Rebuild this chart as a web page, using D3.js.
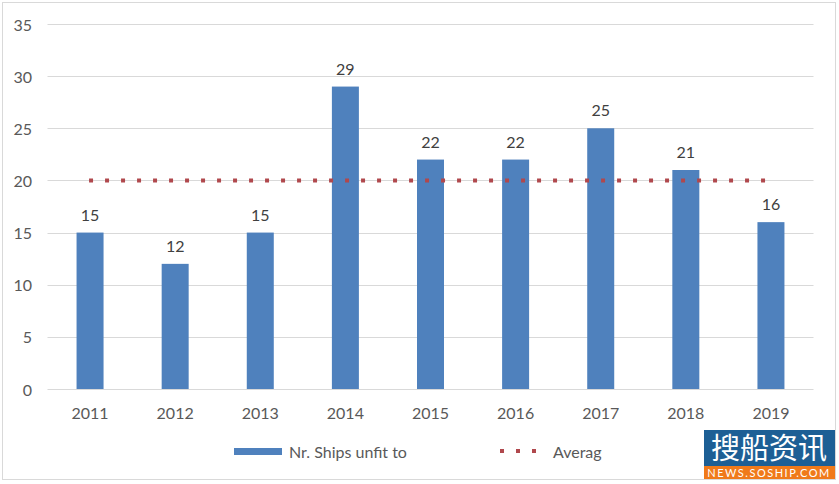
<!DOCTYPE html>
<html><head><meta charset="utf-8">
<script src="https://cdn.jsdelivr.net/npm/d3@7"></script>
<style>body{margin:0;background:#fff;} text{font-family:Lato,"Open Sans",sans-serif;}</style>
</head><body><svg id="c" width="839" height="484"></svg>
<script>
const years = ["2011","2012","2013","2014","2015","2016","2017","2018","2019"];
const ships = [15,12,15,29,22,22,25,21,16];
const average = [20,20,20,20,20,20,20,20,20];
const yTicks = [0,5,10,15,20,25,30,35];
const seriesNames = ["Nr. Ships unfit to","Averag"];

const svg = d3.select("#c");
svg.append("rect").attr("x",2.5).attr("y",2.5).attr("width",833).attr("height",477)
  .attr("fill","#fff").attr("stroke","#d9d9d9");
const x = d3.scaleBand().domain(years).range([47.5,813.5]);
const y = d3.scaleLinear().domain([0,35]).range([389,24]);
const txt="#595959";
const fs="16px";

svg.append("g").selectAll("line").data(yTicks).join("line")
  .attr("x1",47.5).attr("x2",813.5).attr("y1",d=>Math.round(y(d))+0.5).attr("y2",d=>Math.round(y(d))+0.5)
  .attr("stroke","#d9d9d9");
svg.append("g").selectAll("text").data(yTicks).join("text")
  .attr("x",32).attr("y",d=>y(d)+1).attr("dy","0.35em").attr("text-anchor","end")
  .attr("fill",txt).style("font-size",fs).text(d=>d);
const bw=27;
svg.append("g").selectAll("rect").data(ships).join("rect")
  .attr("x",(d,i)=>x(years[i])+x.bandwidth()/2-bw/2).attr("width",bw)
  .attr("y",d=>y(d)).attr("height",d=>y(0)-y(d)).attr("fill","#4f81bd");
svg.append("g").selectAll("text").data(ships).join("text")
  .attr("x",(d,i)=>x(years[i])+x.bandwidth()/2).attr("y",d=>y(d)-12)
  .attr("text-anchor","middle").attr("fill","#404040").style("font-size",fs).text(d=>d);
svg.append("g").selectAll("text").data(years).join("text")
  .attr("x",d=>x(d)+x.bandwidth()/2).attr("y",413).attr("dy","0.35em")
  .attr("text-anchor","middle").attr("fill",txt).style("font-size",fs).text(d=>d);
const line=d3.line().x((d,i)=>x(years[i])+x.bandwidth()/2).y(d=>y(d));
svg.append("path").datum(average).attr("d",line).attr("fill","none")
  .attr("stroke","#b0484d").attr("stroke-width",4).attr("stroke-dasharray","4,12")
  .attr("transform","translate(-1,0)");
const ly=451;
svg.append("rect").attr("x",234).attr("y",ly-3).attr("width",48).attr("height",7).attr("fill","#4f81bd");
svg.append("text").attr("x",289).attr("y",ly+1).attr("dy","0.35em").attr("fill",txt).style("font-size",fs).text(seriesNames[0]);
svg.append("line").attr("x1",500).attr("x2",540).attr("y1",ly).attr("y2",ly)
  .attr("stroke","#b0484d").attr("stroke-width",4).attr("stroke-dasharray","4,12");
svg.append("text").attr("x",553).attr("y",ly+1).attr("dy","0.35em").attr("fill",txt).style("font-size",fs).text(seriesNames[1]);
const wm=svg.append("g");
wm.append("rect").attr("x",704).attr("y",430).attr("width",131).attr("height",36).attr("fill","#1d5f95");
wm.append("rect").attr("x",704).attr("y",466).attr("width",131).attr("height",13).attr("fill","#f07a1a");
wm.append("text").attr("x",769).attr("y",449).attr("dy","0.35em").attr("text-anchor","middle")
  .attr("fill","#fff").style("font-family","'Noto Sans CJK SC'").style("font-size","29px").text("搜船资讯");
wm.append("text").attr("x",769).attr("y",473).attr("dy","0.35em").attr("text-anchor","middle")
  .attr("fill","#fff").style("font-size","11px").attr("letter-spacing","1.5").text("NEWS.SOSHIP.COM");
</script></body></html>
